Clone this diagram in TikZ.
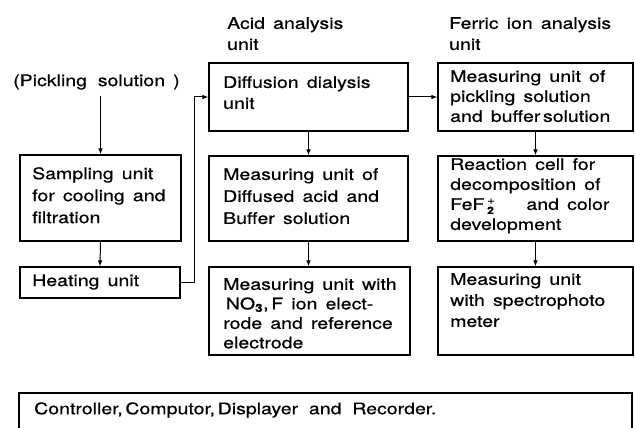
\documentclass[tikz,border=0pt]{standalone}
\usepackage{fontspec}
\setmainfont{TeX Gyre Heros}[FakeStretch=1.22, WordSpace=1.5, FakeBold=0.6]
\usetikzlibrary{arrows.meta,calc,fit}

\begin{document}
\begin{tikzpicture}[x=1pt,y=-1pt,
  box/.style={draw, line width=1.1pt, inner sep=0pt},
  lsp/.style={font=\fontsize{16}{#1}\selectfont},
  txt/.style={anchor=north west, align=left, inner sep=0pt, lsp=#1},
  txt/.default=20,
  one/.style={anchor=west, inner sep=0pt, lsp=20},
  arr/.style={-{Latex[length=6pt,width=4.5pt]}, line width=1pt}]
\useasboundingbox (0,0) rectangle (635,428);

% left column
\node[one] (pick) at (13,82) {(Pickling\,\ solution\ )};
\node[box, fit={(20,155) (181,241)}] (samp) {};
\node[txt=22] (sampt) at (32,167) {Sampling unit\\for cooling and\\filtration};
\node[box, fit={(20,267) (180,298)}] (heat) {};
\node[one] (heatt) at (32,282) {Heating unit};

% acid analysis column
\node[txt=21] (acid) at (227,17) {Acid analysis\\unit};
\node[box, fit={(209,63) (408,131)}] (diff) {};
\node[txt=21] (difft) at (223,76) {Diffusion dialysis\\unit};
\node[box, fit={(209,156) (408,241)}] (meas) {};
\node[txt=22] (meast) at (223,168) {Measuring unit of\\Diffused acid and\\Buffer solution};
\node[box, fit={(209,267) (410,355)}] (ion) {};
\node[txt=19.5] (iont) at (223,278) {Measuring unit with\\\,NO\textsubscript{\textbf{3}},\,F ion elect-\\rode and reference\\electrode};

% ferric ion column
\node[txt=21] (ferr) at (449,17) {Ferric ion analysis\\unit};
\node[box, fit={(438,63) (633,131)}] (fer) {};
\node[txt=20] (fert) at (450,70) {Measuring unit of\\pickling solution\\and buffer\,solution};
\node[box, fit={(438,156) (633,241)}] (react) {};
\node[txt=20] (reactt) at (450,158) {Reaction cell for\\decomposition of\\FeF\,\makebox[0pt][l]{\raisebox{6pt}{\fontsize{11}{11}\selectfont +}}\raisebox{-4pt}{\fontsize{10}{10}\selectfont\textbf{2}}\ \ \ \ and color\\development};
\node[box, fit={(438,267) (633,355)}] (spec) {};
\node[txt=21] (spect) at (450,273) {Measuring unit\\with spectrophoto\\meter};

% controller strip, open at the lower edge
\node[box, fit={(19,393) (632,445)}] (ctrl) {};
\node[one] (ctrlt) at (34,410) {Controller,\,Computor,\,Displayer\,\ and\,\ Recorder.};

% connectors
\draw[arr, shorten <=6pt] (pick.south -| samp.north) -- (samp.north);
\draw[arr] (samp.south) -- (heat.north);
\draw[arr] (heat.east) -- ++(14,0) |- (diff.west);
\draw[arr] (diff.south) -- (meas.north);
\draw[arr] (meas.south) -- (meas.south |- ion.north);
\draw[arr] (diff.east) -- (fer.west);
\draw[arr] (fer.south) -- (react.north);
\draw[arr] (react.south) -- (spec.north);
\end{tikzpicture}
\end{document}
